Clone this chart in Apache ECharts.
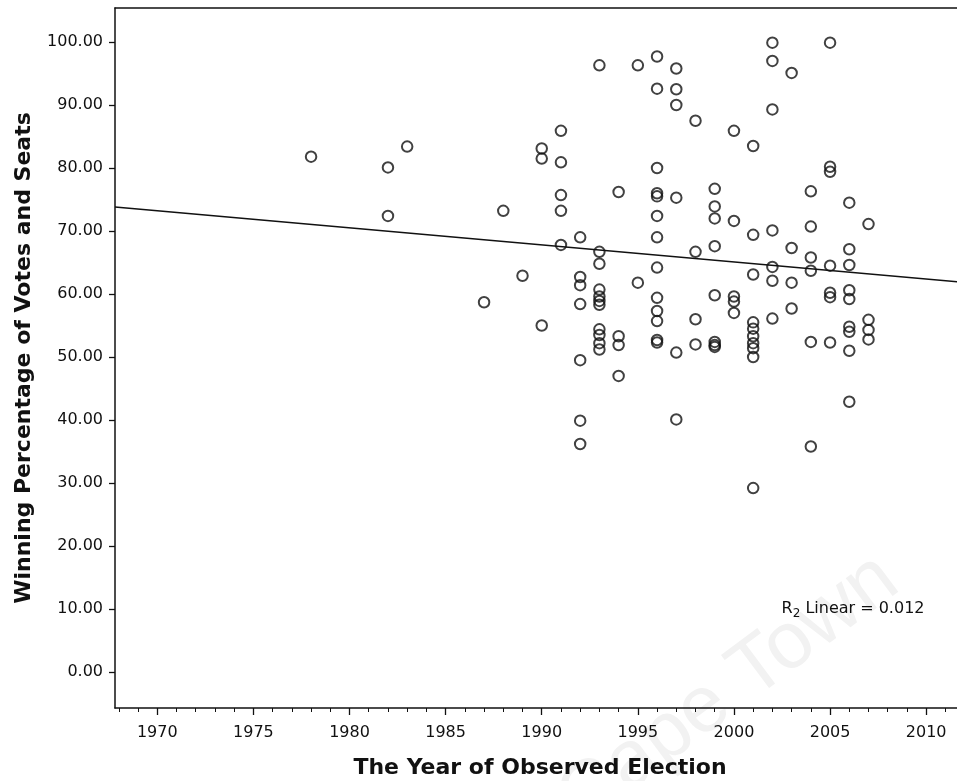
<!DOCTYPE html>
<html>
<head>
<meta charset="utf-8">
<script src="https://cdn.jsdelivr.net/npm/echarts@6/dist/echarts.min.js"></script>
<style>html,body{margin:0;padding:0;background:#fff}#c{width:957px;height:781px}</style>
</head>
<body>
<div id="c"></div>
<script>
// Observed elections: year and winning percentage of votes and seats
const electionYears = [
  1978,
  1982, 1982,
  1983,
  1987,
  1988,
  1989,
  1990, 1990, 1990,
  1991, 1991, 1991, 1991, 1991,
  1992, 1992, 1992, 1992, 1992, 1992, 1992,
  1993, 1993, 1993, 1993, 1993, 1993, 1993, 1993, 1993, 1993, 1993,
  1994, 1994, 1994, 1994,
  1995, 1995,
  1996, 1996, 1996, 1996, 1996, 1996, 1996, 1996, 1996, 1996, 1996, 1996, 1996,
  1997, 1997, 1997, 1997, 1997, 1997,
  1998, 1998, 1998, 1998,
  1999, 1999, 1999, 1999, 1999, 1999, 1999, 1999,
  2000, 2000, 2000, 2000, 2000,
  2001, 2001, 2001, 2001, 2001, 2001, 2001, 2001, 2001, 2001,
  2002, 2002, 2002, 2002, 2002, 2002, 2002,
  2003, 2003, 2003, 2003,
  2004, 2004, 2004, 2004, 2004, 2004,
  2005, 2005, 2005, 2005, 2005, 2005, 2005,
  2006, 2006, 2006, 2006, 2006, 2006, 2006, 2006, 2006,
  2007, 2007, 2007, 2007
];
const winningPct = [
  81.8,
  80.1, 72.4,
  83.4,
  58.7,
  73.2,
  62.9,
  83.1, 81.5, 55.0,
  85.9, 80.9, 75.7, 73.2, 67.8,
  69.0, 62.7, 61.4, 58.4, 49.5, 39.9, 36.2,
  96.3, 66.7, 64.8, 60.7, 59.6, 58.9, 58.3, 54.4, 53.5, 52.2, 51.2,
  76.2, 53.3, 51.9, 47.0,
  96.3, 61.8,
  97.7, 92.6, 80.0, 76.0, 75.5, 72.4, 69.0, 64.2, 59.4, 57.3, 55.7, 52.7, 52.3,
  95.8, 92.5, 90.0, 75.3, 50.7, 40.1,
  87.5, 66.7, 56.0, 52.0,
  76.7, 73.9, 72.0, 67.6, 59.8, 52.4, 51.9, 51.6,
  85.9, 71.6, 59.6, 58.8, 57.0,
  83.5, 69.4, 63.1, 55.5, 54.5, 53.3, 52.2, 51.4, 50.0, 29.2,
  99.9, 97.0, 89.3, 70.1, 64.3, 62.1, 56.1,
  95.1, 67.3, 61.8, 57.7,
  76.3, 70.7, 65.8, 63.7, 52.4, 35.8,
  99.9, 80.2, 79.4, 64.5, 60.2, 59.5, 52.3,
  74.5, 67.1, 64.6, 60.6, 59.2, 54.8, 54.0, 51.0, 42.9,
  71.1, 55.9, 54.3, 52.8
];
// Fitted linear trend, endpoints at the axis extent
const trendYears = [1967.80, 2012.02];
const trendPct = [73.8, 61.84];
// Tick labels
const xMajorTicks = [1970, 1975, 1980, 1985, 1990, 1995, 2000, 2005, 2010];
const xMinorTicks = [1968,1969,1970,1971,1972,1973,1974,1975,1976,1977,1978,1979,1980,1981,1982,1983,1984,1985,1986,1987,1988,1989,1990,1991,1992,1993,1994,1995,1996,1997,1998,1999,2000,2001,2002,2003,2004,2005,2006,2007,2008,2009,2010,2011];
const yTicks = [0, 10, 20, 30, 40, 50, 60, 70, 80, 90, 100];
const annotation = 'R{sub|2} Linear = 0.012';
const annotationAt = [2002.45, 10];

const X_MIN = 1967.80, X_MAX = 2012.02, Y_MIN = -5.71, Y_MAX = 105.4;
const ink = '#111';
const chart = echarts.init(document.getElementById('c'), null, {renderer: 'canvas'});
const pts = electionYears.map((y, i) => [y, winningPct[i]]);
const trend = trendYears.map((y, i) => [y, trendPct[i]]);

chart.setOption({
  animation: false,
  backgroundColor: '#fff',
  grid: {left: 115, top: 8, width: 850, height: 700, containLabel: false, outerBoundsMode: 'none', show: false},
  xAxis: [{
    type: 'value', min: X_MIN, max: X_MAX, position: 'bottom',
    name: 'The Year of Observed Election', nameLocation: 'middle', nameGap: 49,
    nameTextStyle: {fontFamily: 'DejaVu Sans', fontWeight: 'bold', fontSize: 22, color: ink},
    axisLine: {show: true, onZero: false, lineStyle: {color: ink, width: 1.5}},
    axisTick: {show: true, length: 7, customValues: xMajorTicks, lineStyle: {color: ink, width: 1.3}},
    axisLabel: {customValues: xMajorTicks, fontFamily: 'DejaVu Sans', fontSize: 16, color: ink, margin: 17, formatter: v => String(Math.round(v))},
    splitLine: {show: false}
  }, {
    type: 'value', min: X_MIN, max: X_MAX, position: 'bottom', gridIndex: 0,
    axisLine: {show: false, onZero: false},
    axisTick: {show: true, length: 4, customValues: xMinorTicks, lineStyle: {color: ink, width: 1}},
    axisLabel: {show: false},
    splitLine: {show: false}
  }, {
    type: 'value', min: X_MIN, max: X_MAX, position: 'top', gridIndex: 0,
    axisLine: {show: true, onZero: false, lineStyle: {color: ink, width: 1.5}},
    axisTick: {show: false}, axisLabel: {show: false}, splitLine: {show: false}
  }],
  yAxis: [{
    type: 'value', min: Y_MIN, max: Y_MAX,
    name: 'Winning Percentage of Votes and Seats', nameLocation: 'middle', nameGap: 80,
    nameTextStyle: {fontFamily: 'DejaVu Sans', fontWeight: 'bold', fontSize: 22, color: ink},
    axisLine: {show: true, onZero: false, lineStyle: {color: ink, width: 1.5}},
    axisTick: {show: true, length: 6, customValues: yTicks, lineStyle: {color: ink, width: 1.3}},
    axisLabel: {customValues: yTicks, fontFamily: 'DejaVu Sans', fontSize: 16, color: ink, margin: 12, formatter: v => v.toFixed(2)},
    splitLine: {show: false}
  }],
  graphic: [{
    type: 'text', x: 592, y: 842, rotation: 0.64, z: -10, silent: true,
    style: {text: 'Cape Town', font: '80px "Liberation Sans", sans-serif', fill: '#f2f2f2', align: 'left', verticalAlign: 'bottom'}
  }],
  series: [{
    type: 'line', data: trend, xAxisIndex: 0, showSymbol: false, symbol: 'none',
    lineStyle: {color: ink, width: 1.5}, z: 3, silent: true
  }, {
    type: 'scatter', data: pts, xAxisIndex: 0, symbol: 'circle', symbolSize: 10.5,
    itemStyle: {color: 'rgba(255,255,255,0)', borderColor: ink, borderWidth: 2}, z: 4,
    markPoint: {
      symbol: 'circle', symbolSize: 1, itemStyle: {color: 'transparent'},
      label: {show: true, position: 'right', distance: 0, formatter: annotation, fontFamily: 'DejaVu Sans', fontSize: 16, color: ink,
        rich: {sub: {fontFamily: 'DejaVu Sans', fontSize: 12, verticalAlign: 'bottom', padding: [9, 0, 0, 0], color: ink}}},
      data: [{coord: annotationAt, value: 0}]
    }
  }]
});
</script>
</body>
</html>
